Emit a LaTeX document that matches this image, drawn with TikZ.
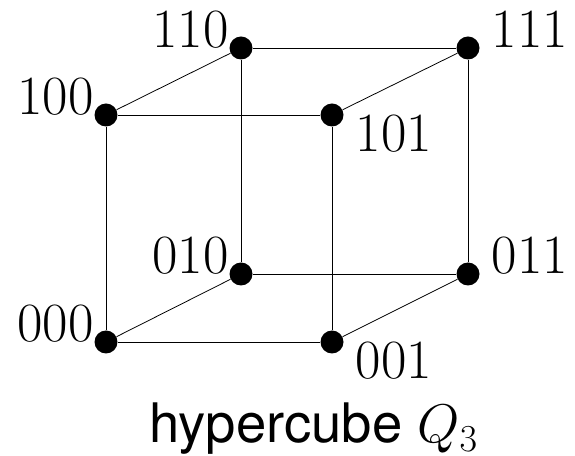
\RequirePackage{fix-cm}
\documentclass[tikz,border=0pt]{standalone}
\usepackage{fontspec}
\setsansfont{TeX Gyre Heros}

\tikzset{
	vtx/.style={circle, fill=black, inner sep=0pt, minimum size=0.46cm},
	lbl/.style={font=\fontsize{31.5}{38}\selectfont, inner sep=0pt},
	edge/.style={line width=0.45pt}
}

\begin{document}
\begin{tikzpicture}[x=0.02cm, y=0.02cm]
		\useasboundingbox (0,0) rectangle (575,456);
		
		\node[vtx, label={[lbl, anchor=base east]west:000}] (v000) at (106,114) {};
		\node[vtx, label={[lbl, anchor=north west, xshift=0.23cm]east:001}] (v001) at (332,114) {};
		\node[vtx, label={[lbl, anchor=base east]west:010}] (v010) at (241,182) {};
		\node[vtx, label={[lbl, anchor=base west, xshift=0.23cm]east:011}] (v011) at (468,182) {};
		\node[vtx, label={[lbl, anchor=base east]west:100}] (v100) at (106,341) {};
		\node[vtx, label={[lbl, anchor=north west, xshift=0.23cm]east:101}] (v101) at (332,341) {};
		\node[vtx, label={[lbl, anchor=base east]west:110}] (v110) at (241,408) {};
		\node[vtx, label={[lbl, anchor=base west, xshift=0.23cm]east:111}] (v111) at (468,408) {};
		
		\draw[edge] (v000) -- (v001);
		\draw[edge] (v010) -- (v011);
		\draw[edge] (v100) -- (v101);
		\draw[edge] (v110) -- (v111);
		\draw[edge] (v000) -- (v100);
		\draw[edge] (v001) -- (v101);
		\draw[edge] (v010) -- (v110);
		\draw[edge] (v011) -- (v111);
		\draw[edge] (v000) -- (v010);
		\draw[edge] (v001) -- (v011);
		\draw[edge] (v100) -- (v110);
		\draw[edge] (v101) -- (v111);
		
		\node[anchor=base west, inner sep=0pt, font=\fontsize{31}{37}\selectfont] (caption) at (149,13) {\sffamily hypercube $Q_3$};
	\end{tikzpicture}
\end{document}
